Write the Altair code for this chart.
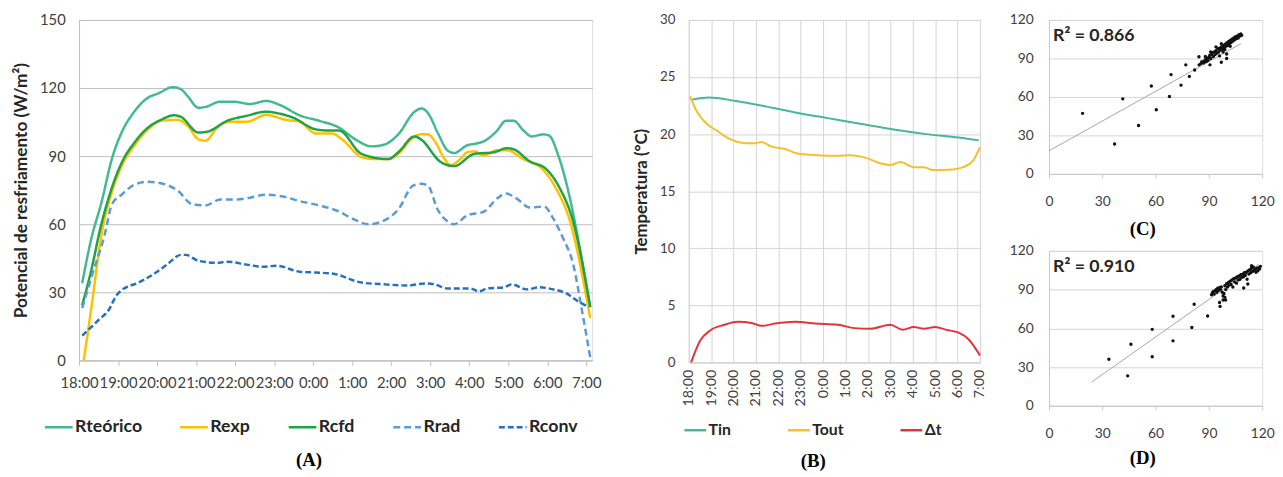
import json
import altair as alt
import pandas as pd

FONT = "Lato"
LABEL = "#404040"
DARK = "#262626"

hour_labels = ["18:00", "19:00", "20:00", "21:00", "22:00", "23:00", "0:00",
               "1:00", "2:00", "3:00", "4:00", "5:00", "6:00", "7:00"]
hour_ticks = list(range(14))
label_expr = json.dumps(hour_labels) + "[datum.value]"

# ---------------- Panel A (W/m2) ----------------
rteo_t = [0.08, 0.3, 0.58, 0.84, 1.09, 1.39, 1.72, 2.05, 2.4, 2.6, 2.78, 3.06, 3.24, 3.62, 3.95,
          4.38, 4.8, 5.14, 5.65, 6.15, 6.66, 7.08, 7.5, 7.84, 8.18, 8.6, 8.78, 8.94, 9.19, 9.44,
          9.61, 9.95, 10.2, 10.4, 10.7, 10.94, 11.14, 11.39, 11.6, 11.9, 12.05, 12.28, 12.56,
          12.8, 13.1]
rteo_v = [34, 52.6, 70, 88.7, 100.4, 109, 115.2, 117.8, 120.4, 119.6, 116.5, 111.3, 111.7, 114,
          114, 113, 114.3, 112.6, 108, 105.6, 102.6, 97.4, 94.3, 95.2, 99.6, 109.6, 111, 109,
          100.4, 92.6, 91.4, 94.8, 95.6, 96.8, 101, 105.6, 105.6, 101.3, 98.7, 99.6, 99, 90.4,
          73, 52.6, 23.5]

rexp_t = [0.12, 0.33, 0.58, 0.84, 1.09, 1.42, 1.77, 2.1, 2.53, 2.78, 3.06, 3.24, 3.54, 3.87,
          4.3, 4.8, 5.3, 5.65, 6.07, 6.48, 6.74, 7.24, 7.59, 7.92, 8.18, 8.51, 8.76, 8.94, 9.11,
          9.37, 9.52, 9.77, 9.95, 10.13, 10.38, 10.71, 10.96, 11.39, 11.9, 12.23, 12.56, 13.1]
rexp_v = [0, 25, 56, 74, 85.5, 94.7, 101.8, 105.6, 106, 103.4, 97.4, 96.8, 102.6, 105.2, 105.2,
          108.2, 106, 105.2, 100, 100, 97.4, 89.6, 88.7, 88.7, 91, 97.4, 99.6, 99.6, 96.8, 88.7,
          86, 88.7, 91.7, 92.1, 90.4, 92.6, 92.6, 88.7, 83.9, 75.6, 62.6, 18.7]

rcfd_t = [0.08, 0.33, 0.53, 0.84, 1.09, 1.42, 1.77, 2.1, 2.43, 2.6, 3.06, 3.29, 3.8, 4.3, 4.8,
          5.06, 5.48, 6.07, 6.4, 6.66, 7.24, 7.92, 8.18, 8.6, 8.76, 9.27, 9.61, 10.13, 10.63,
          10.96, 11.14, 11.54, 11.97, 12.3, 12.66, 13.1]
rcfd_v = [24.3, 41, 57, 76, 87, 96, 102.6, 106, 108, 107.4, 100.4, 100.8, 105.6, 107.8, 109.6,
          109, 107, 101.8, 101.3, 101.3, 91, 88.7, 91.7, 98.7, 97.4, 87.4, 85.6, 91, 91.7, 93.5,
          93, 87.8, 84.3, 76.5, 61.3, 23.5]

rrad_t = [0.08, 0.33, 0.66, 0.84, 1.09, 1.42, 1.77, 2.03, 2.53, 2.91, 3.24, 3.62, 4.05, 4.38,
          4.8, 5.22, 5.65, 6.15, 6.66, 6.99, 7.42, 7.92, 8.18, 8.56, 8.76, 8.94, 9.19, 9.44, 9.61,
          9.95, 10.38, 10.71, 10.94, 11.22, 11.54, 11.92, 12.15, 12.4, 12.66, 12.9, 13.1]
rrad_v = [23, 37.4, 55.6, 68.7, 73, 77.4, 78.7, 78.3, 74.8, 68.7, 68.3, 70.9, 70.9, 71.7, 73,
          72.2, 70.2, 68.3, 65.6, 62.6, 60, 62.6, 66.5, 77, 77.8, 77, 66.5, 61.3, 60, 63.9, 65.6,
          71.3, 73.5, 71.3, 67.4, 67.8, 62.6, 54, 42.6, 20.9, 1.3]

rconv_t = [0.08, 0.5, 0.76, 0.96, 1.09, 1.52, 1.97, 2.28, 2.61, 2.73, 3.06, 3.54, 3.8, 4.3, 4.71,
           5.06, 5.65, 6.07, 6.48, 7.24, 7.84, 8.43, 8.86, 9.11, 9.44, 10.03, 10.25, 10.46,
           10.89, 11.09, 11.47, 11.8, 12.15, 12.48, 12.78, 13.06]
rconv_v = [10.9, 17.8, 22.2, 28.7, 30.9, 34.3, 38.7, 42.6, 46.5, 46.5, 43.9, 43, 43.5, 42.2,
           41.3, 41.7, 39.1, 38.7, 38.3, 34.3, 33.5, 33, 33.9, 33.5, 31.7, 31.7, 30.4, 31.7,
           32.2, 33.5, 31.3, 32.2, 31.3, 29.6, 26.1, 23.5]

names_a = ["Rteórico", "Rexp", "Rcfd", "Rrad", "Rconv"]
colors_a = ["#43B992", "#FFC000", "#1FA345", "#5B9BD5", "#2471C0"]
dashes_a = [[1, 0], [1, 0], [1, 0], [7, 4], [6, 3]]

# ---------------- Panel B (°C) ----------------
tin_t = [0.1, 0.9, 2.1, 3.25, 4.75, 6.2, 7.65, 9.15, 10.6, 12.05, 12.95]
tin_v = [23.0, 23.2, 22.9, 22.5, 21.9, 21.4, 20.9, 20.4, 20.0, 19.7, 19.45]

tout_t = [0.05, 0.35, 0.8, 1.25, 1.8, 2.55, 2.95, 3.25, 3.7, 4.3, 4.85, 5.75, 6.6, 7.2, 7.95,
          8.55, 9.0, 9.45, 10.05, 10.5, 10.9, 11.8, 12.25, 12.7, 13.0]
tout_v = [23.3, 22.0, 20.9, 20.3, 19.6, 19.2, 19.2, 19.3, 18.9, 18.7, 18.3, 18.15, 18.1, 18.15,
          17.9, 17.45, 17.3, 17.55, 17.1, 17.1, 16.85, 16.9, 17.1, 17.7, 18.85]

dt_t = [0.1, 0.5, 0.95, 1.6, 2.2, 2.8, 3.25, 3.85, 4.75, 5.65, 6.65, 7.4, 8.1, 9.0, 9.55, 10.05,
        10.5, 11.0, 11.5, 12.05, 12.5, 13.0]
dt_v = [0, 1.9, 2.8, 3.3, 3.55, 3.45, 3.2, 3.4, 3.55, 3.4, 3.3, 3.0, 2.95, 3.3, 2.85, 3.1, 2.95,
        3.1, 2.85, 2.6, 2.0, 0.6]

names_b = ["Tin", "Tout", "Δt"]
colors_b = ["#45B7A0", "#F4C02E", "#E2353A"]

# ---------------- Panel C scatter ----------------
c_x = [18.9, 36.9, 41.5, 50.4, 57.6, 60.4, 67.8, 68.7, 74.3, 77, 79, 82, 84.4, 90.6, 97, 100,
       84.5, 85.5, 86, 87, 87.5, 88, 88.5, 89, 89.5, 90, 90.5, 91, 91.5, 92, 92.5, 93, 93.5, 94,
       94.5, 95, 95.5, 96, 96.5, 97, 97.5, 98, 98.5, 99, 99.5, 100, 100.5, 101, 101.5, 102,
       102.5, 103, 103.5, 104, 104.5, 105, 105.5, 106, 106.5, 107, 107.5, 108, 108.5, 96, 98,
       100, 97, 94, 88, 91, 99, 102]
c_y = [47.2, 23.3, 58.5, 37.7, 68.5, 50, 60.3, 77.4, 69.2, 85, 76, 81, 91.3, 85, 87, 90,
       85, 86, 87.5, 86.5, 88, 89, 87.5, 90, 88.5, 91, 92.5, 90, 93, 94.5, 91.5, 95, 93, 96,
       94, 97.5, 95, 98, 96.5, 99, 97, 100, 98, 101, 99.5, 102, 100, 103, 101.5, 104, 102.5,
       105, 103.5, 106, 104.5, 107, 105.5, 107.5, 106, 108.5, 107.5, 109, 108, 92, 95, 93.5,
       101.5, 99, 91.5, 95, 97, 99.5]
trend_c_x = [0, 108]
trend_c_y = [18, 101.5]
r2_c = "R² = 0.866"

# ---------------- Panel D scatter ----------------
d_x = [33.7, 44.3, 46.1, 58.1, 58.1, 69.8, 69.8, 80.4, 81.7, 89.3, 96.3, 99.4, 109.6, 111.9,
       91.5, 92, 92.5, 93, 93.5, 94, 94.5, 95, 95.5, 96, 96.5, 97, 97.5, 98, 98.5, 99, 99.5,
       100, 100.5, 101, 101.5, 102, 102.5, 103, 103.5, 104, 104.5, 105, 105.5, 106, 106.5, 107,
       107.5, 108, 108.5, 109, 109.5, 110, 110.5, 111, 111.5, 112, 112.5, 113, 113.5, 114,
       114.5, 115, 115.5, 116, 116.5, 117, 117.5, 118, 118.5, 119, 114, 98, 99, 96]
d_y = [36, 23.2, 47.7, 59.2, 38, 69.4, 50.3, 60.7, 78.6, 69.6, 77, 82, 91.3, 94.4,
       86, 87.5, 88.5, 86.5, 89, 90, 88, 91, 89.5, 91.5, 90, 92, 88, 85, 87, 93, 90, 94.5, 92,
       95.5, 93.5, 96.5, 94, 97.5, 92, 98.5, 96, 99, 95, 100, 97.5, 100.5, 98, 101.5, 99.5,
       102, 100, 103, 101, 103.5, 98, 104.5, 102, 105.5, 103, 106.5, 104, 107.5, 105, 106,
       103.5, 106.5, 104.5, 107, 106, 108, 108.5, 82, 84, 80]
trend_d_x = [24, 118]
trend_d_y = [18.4, 109.5]
r2_d = "R² = 0.910"

# ======================================================================
def long_df(names, ts, vs):
    frames = []
    for i, (n, t, v) in enumerate(zip(names, ts, vs)):
        frames.append(pd.DataFrame({"t": t, "v": v, "serie": n, "k": i}))
    return pd.concat(frames, ignore_index=True)


def panel_label(text, x, y):
    return alt.Chart(pd.DataFrame({"lab": [text]})).mark_text(
        font="Liberation Serif", fontSize=19, fontWeight="bold", color="black",
        align="center", baseline="middle"
    ).encode(x=alt.value(x), y=alt.value(y), text="lab:N")


# ---- A ----
dfa = long_df(names_a, [rteo_t, rexp_t, rcfd_t, rrad_t, rconv_t],
              [rteo_v, rexp_v, rcfd_v, rrad_v, rconv_v])
lines_a = alt.Chart(dfa).mark_line(strokeWidth=2.5, interpolate="monotone").encode(
    x=alt.X("t:Q", scale=alt.Scale(domain=[0, 13.15], nice=False, zero=False),
            axis=alt.Axis(values=hour_ticks, labelExpr=label_expr, title=None, grid=False,
                          labelFontSize=15, labelOverlap=False, labelBound=False,
                          labelFlush=False, tickSize=5, labelPadding=10,
                          domainColor="#BFBFBF", tickColor="#BFBFBF")),
    y=alt.Y("v:Q", scale=alt.Scale(domain=[0, 150], nice=False),
            axis=alt.Axis(values=[0, 30, 60, 90, 120, 150], title="Potencial de resfriamento (W/m²)",
                          titleFontSize=17.5, titleFontWeight="bold", titleColor=DARK,
                          titlePadding=9, labelFontSize=15, ticks=False, labelPadding=14,
                          labelOverlap=False, grid=True, gridColor="#BDBDBD",
                          domainColor="#BFBFBF")),
    color=alt.Color("serie:N", scale=alt.Scale(domain=names_a, range=colors_a),
                    legend=alt.Legend(orient="none", legendX=-36, legendY=397,
                                      direction="horizontal", title=None, labelFont=FONT,
                                      labelFontSize=18, labelFontWeight="bold",
                                      labelColor=DARK, symbolType="stroke", symbolSize=784,
                                      symbolStrokeWidth=2.5, columnPadding=33, labelOffset=1)),
    strokeDash=alt.StrokeDash("serie:N", scale=alt.Scale(domain=names_a, range=dashes_a)),
    order="k:Q",
)
chart_a = alt.layer(lines_a, panel_label("(A)", 233, 446)).properties(width=520, height=345)

# ---- B ----
dfb = long_df(names_b, [tin_t, tout_t, dt_t], [tin_v, tout_v, dt_v])
dfb = dfb.rename(columns={"serie": "serieB"})
lines_b = alt.Chart(dfb).mark_line(strokeWidth=2, interpolate="monotone").encode(
    x=alt.X("t:Q", scale=alt.Scale(domain=[0, 13], nice=False, zero=False),
            axis=alt.Axis(values=hour_ticks, labelExpr=label_expr, title=None, grid=True,
                          gridColor="#D4D4D4", labelFontSize=14.5, labelAngle=270,
                          labelAlign="right", labelBaseline="middle", labelOverlap=False,
                          labelBound=False, labelFlush=False, ticks=False, labelPadding=7,
                          domainColor="#D4D4D4")),
    y=alt.Y("v:Q", scale=alt.Scale(domain=[0, 30], nice=False),
            axis=alt.Axis(values=[0, 5, 10, 15, 20, 25, 30], title="Temperatura (°C)",
                          titleFontSize=17, titleFontWeight="bold", titleColor=DARK,
                          titlePadding=9, labelFontSize=13.5, ticks=False, labelPadding=14,
                          labelOverlap=False, grid=True, gridColor="#D4D4D4",
                          domainColor="#D4D4D4")),
    color=alt.Color("serieB:N", scale=alt.Scale(domain=names_b, range=colors_b),
                    legend=alt.Legend(orient="none", legendX=-6, legendY=403,
                                      direction="horizontal", title=None, labelFont=FONT,
                                      labelFontSize=16, labelFontWeight="bold",
                                      labelColor=DARK, symbolType="stroke", symbolSize=484,
                                      symbolStrokeWidth=2.5, columnPadding=52, labelOffset=1)),
    order="k:Q",
)
chart_b = alt.layer(lines_b, panel_label("(B)", 126, 447)).properties(width=295, height=347)


# ---- C / D ----
def scatter_panel(xs, ys, tx, ty, r2, lab, h, lab_y):
    x_axis = alt.Axis(values=[0, 30, 60, 90, 120], title=None, grid=False,
                      labelFontSize=14, tickSize=4, labelPadding=17,
                      labelOverlap=False, labelFlush=False,
                      domainColor="#C8C8C8", tickColor="#C8C8C8")
    y_axis = alt.Axis(values=[0, 30, 60, 90, 120], title=None, grid=True,
                      gridColor="#D4D4D4", labelFontSize=14, ticks=False,
                      labelOverlap=False, labelPadding=16, domainColor="#C8C8C8")
    x_scale = alt.Scale(domain=[0, 120], nice=False)
    y_scale = alt.Scale(domain=[0, 120], nice=False)
    trend = alt.Chart(pd.DataFrame({"x": tx, "y": ty})).mark_line(
        color="#A6A6A6", strokeWidth=1).encode(
        x=alt.X("x:Q", scale=x_scale, axis=x_axis),
        y=alt.Y("y:Q", scale=y_scale, axis=y_axis))
    pts = alt.Chart(pd.DataFrame({"x": xs, "y": ys})).mark_circle(
        size=12, color="#111111", opacity=1).encode(
        x=alt.X("x:Q", scale=x_scale, axis=x_axis),
        y=alt.Y("y:Q", scale=y_scale, axis=y_axis))
    r2t = alt.Chart(pd.DataFrame({"r2": [r2]})).mark_text(
        font=FONT, fontSize=18, fontWeight="bold", color=DARK, align="left",
        baseline="middle").encode(x=alt.value(4), y=alt.value(16), text="r2:N")
    return alt.layer(trend, pts, r2t, panel_label(lab, 95, lab_y)).properties(
        width=216, height=h)


chart_c = scatter_panel(c_x, c_y, trend_c_x, trend_c_y, r2_c, "(C)", 156, 212)
chart_d = scatter_panel(d_x, d_y, trend_d_x, trend_d_y, r2_d, "(D)", 157, 210)

left = alt.hconcat(chart_a, chart_b, spacing=98, bounds="flush").resolve_scale(
    color="independent", strokeDash="independent")
right = alt.vconcat(chart_c, chart_d, spacing=78, bounds="flush")
chart = alt.hconcat(left, right, spacing=22).resolve_scale(
    color="independent", strokeDash="independent").properties(
    padding={"left": 4, "top": 1, "right": 0, "bottom": 0}
).configure_view(stroke=None).configure(font=FONT).configure_axis(
    labelFont=FONT, titleFont=FONT, labelColor=LABEL)

chart.save("out.html", embed_options={"renderer": "svg", "actions": False})
